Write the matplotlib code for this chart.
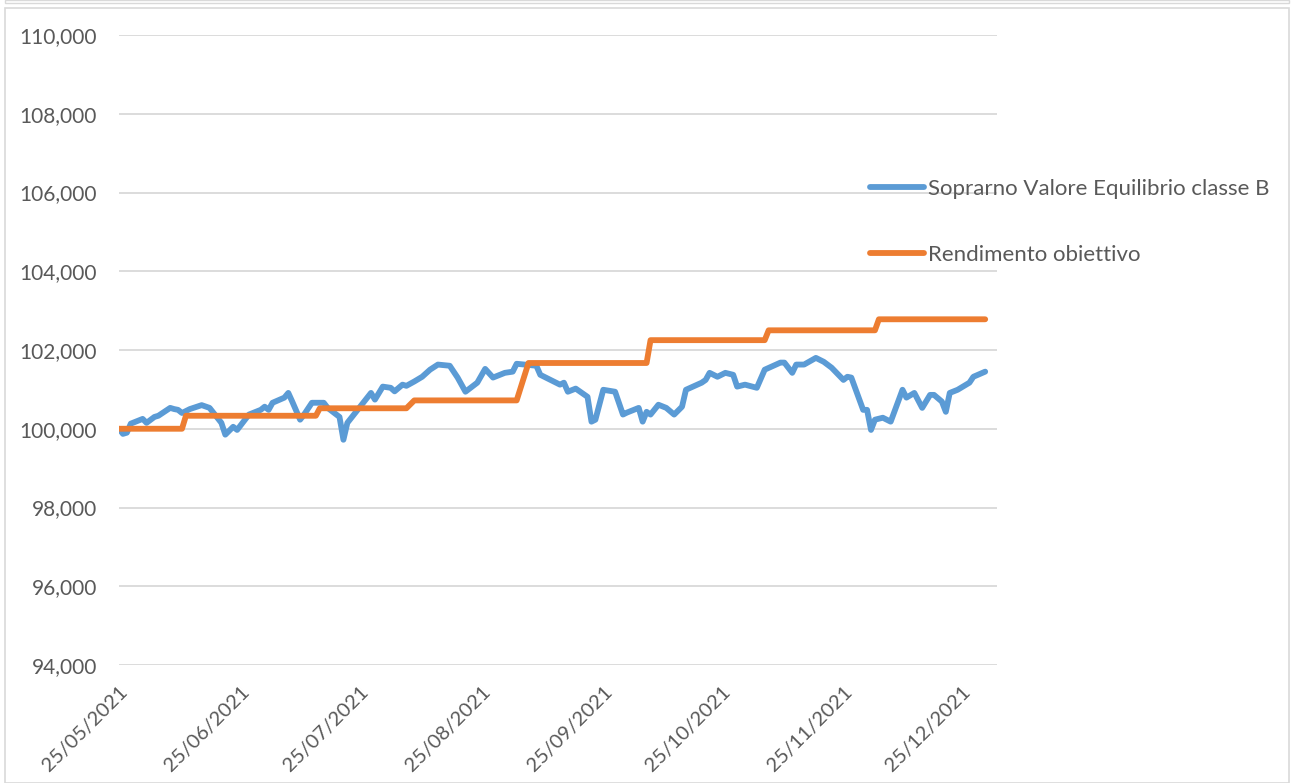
import matplotlib
matplotlib.use("Agg")
import matplotlib.pyplot as plt
from matplotlib.patches import Rectangle
from matplotlib.ticker import FuncFormatter
import pandas as pd

# ---- data ----
blue_dates = [
    "2021-05-25", "2021-05-26", "2021-05-27", "2021-05-28", "2021-05-31", "2021-06-01",
    "2021-06-03", "2021-06-04", "2021-06-07", "2021-06-08", "2021-06-09", "2021-06-10",
    "2021-06-12", "2021-06-15", "2021-06-17", "2021-06-20", "2021-06-21", "2021-06-23",
    "2021-06-24", "2021-06-26", "2021-06-27", "2021-06-30", "2021-07-01", "2021-07-02",
    "2021-07-03", "2021-07-06", "2021-07-07", "2021-07-08", "2021-07-10", "2021-07-11",
    "2021-07-13", "2021-07-16", "2021-07-17", "2021-07-20", "2021-07-21", "2021-07-22",
    "2021-07-25", "2021-07-28", "2021-07-29", "2021-07-31", "2021-08-02", "2021-08-03",
    "2021-08-05", "2021-08-06", "2021-08-08", "2021-08-10", "2021-08-12", "2021-08-14",
    "2021-08-17", "2021-08-19", "2021-08-21", "2021-08-24", "2021-08-26", "2021-08-28",
    "2021-08-31", "2021-09-02", "2021-09-03", "2021-09-05", "2021-09-08", "2021-09-09",
    "2021-09-14", "2021-09-15", "2021-09-16", "2021-09-18", "2021-09-21", "2021-09-22",
    "2021-09-23", "2021-09-25", "2021-09-28", "2021-09-30", "2021-10-01", "2021-10-04",
    "2021-10-05", "2021-10-06", "2021-10-07", "2021-10-09", "2021-10-11", "2021-10-13",
    "2021-10-15", "2021-10-16", "2021-10-20", "2021-10-21", "2021-10-22", "2021-10-24",
    "2021-10-26", "2021-10-28", "2021-10-29", "2021-10-31", "2021-11-03", "2021-11-05",
    "2021-11-09", "2021-11-10", "2021-11-12", "2021-11-13", "2021-11-15", "2021-11-18",
    "2021-11-20", "2021-11-22", "2021-11-25", "2021-11-26", "2021-11-27", "2021-11-30",
    "2021-12-01", "2021-12-02", "2021-12-03", "2021-12-05", "2021-12-07", "2021-12-10",
    "2021-12-11", "2021-12-13", "2021-12-15", "2021-12-17", "2021-12-18", "2021-12-20",
    "2021-12-21", "2021-12-22", "2021-12-24", "2021-12-27", "2021-12-28", "2021-12-31",
]
blue_values = [
    100.00, 99.87, 99.90, 100.13, 100.25, 100.15,
    100.30, 100.33, 100.53, 100.50, 100.48, 100.40,
    100.50, 100.60, 100.53, 100.15, 99.85, 100.05,
    99.97, 100.23, 100.36, 100.48, 100.56, 100.48,
    100.66, 100.79, 100.91, 100.69, 100.23, 100.36,
    100.66, 100.66, 100.53, 100.30, 99.72, 100.15,
    100.53, 100.91, 100.74, 101.07, 101.04, 100.95,
    101.12, 101.09, 101.20, 101.32, 101.50, 101.63,
    101.60, 101.30, 100.94, 101.17, 101.52, 101.30,
    101.42, 101.45, 101.65, 101.63, 101.60, 101.37,
    101.12, 101.17, 100.94, 101.02, 100.81, 100.18,
    100.23, 100.99, 100.94, 100.36, 100.41, 100.53,
    100.18, 100.43, 100.36, 100.61, 100.53, 100.36,
    100.56, 100.99, 101.17, 101.24, 101.42, 101.32,
    101.42, 101.37, 101.07, 101.12, 101.04, 101.50,
    101.68, 101.68, 101.42, 101.63, 101.63, 101.80,
    101.70, 101.55, 101.24, 101.32, 101.30, 100.48,
    100.48, 99.97, 100.23, 100.28, 100.18, 100.99,
    100.79, 100.91, 100.53, 100.86, 100.86, 100.69,
    100.43, 100.91, 100.99, 101.17, 101.32, 101.45,
]

orange_dates = [
    "2021-05-25", "2021-06-10", "2021-06-11", "2021-07-14", "2021-07-15",
    "2021-08-06", "2021-08-08", "2021-09-03", "2021-09-06", "2021-10-06",
    "2021-10-07", "2021-11-05", "2021-11-06", "2021-12-03", "2021-12-04",
    "2021-12-31",
]
orange_values = [
    100.00, 100.00, 100.33, 100.33, 100.52,
    100.52, 100.72, 100.72, 101.67, 101.67,
    102.25, 102.25, 102.50, 102.50, 102.78,
    102.78,
]

tick_labels = ["25/05/2021", "25/06/2021", "25/07/2021", "25/08/2021",
               "25/09/2021", "25/10/2021", "25/11/2021", "25/12/2021"]
y_ticks = [94, 96, 98, 100, 102, 104, 106, 108, 110]

series_names = ["Soprarno Valore Equilibrio classe B", "Rendimento obiettivo"]

# ---- figure ----
plt.rcParams['font.family'] = ['Lato', 'DejaVu Sans']
W, H = 1292, 783
fig = plt.figure(figsize=(W / 100, H / 100), dpi=100)
fig.patch.set_facecolor("white")

# chart outer frame
fig.add_artist(Rectangle((5 / W, 0), (W - 8) / W, (H - 8) / H, transform=fig.transFigure,
                         fill=False, edgecolor="#d9d9d9", linewidth=1.2))
fig.add_artist(Rectangle((5 / W, (H - 3) / H), (W - 8) / W, 3 / H, transform=fig.transFigure,
                         fill=False, edgecolor="#d9d9d9", linewidth=1.0))

ax = fig.add_axes([119 / W, 1 - 665 / H, (997 - 119) / W, (665 - 35) / H])

bd = pd.to_datetime(blue_dates)
od = pd.to_datetime(orange_dates)
blue_c = "#5b9bd5"
orange_c = "#ed7d31"
l1, = ax.plot(bd, blue_values, color=blue_c, lw=4.2, solid_capstyle="round",
              solid_joinstyle="round", label=series_names[0], zorder=3)
l2, = ax.plot(od, orange_values, color=orange_c, lw=4.2, solid_capstyle="round",
              solid_joinstyle="round", label=series_names[1], zorder=3)

ax.set_ylim(94, 110)
ax.set_yticks(y_ticks)
ax.yaxis.set_major_formatter(FuncFormatter(lambda v, p: f"{v:.3f}".replace(".", ",")))
ax.set_xlim(pd.Timestamp("2021-05-25"), pd.Timestamp("2022-01-03"))
tick_pos = pd.to_datetime(tick_labels, format="%d/%m/%Y")
ax.set_xticks(tick_pos)
ax.set_xticklabels(tick_labels, rotation=45, ha="right", va="top", rotation_mode="anchor")

ax.grid(axis="y", color="#d9d9d9", lw=1.3, zorder=0)
ax.set_axisbelow(True)
for s in ax.spines.values():
    s.set_visible(False)
ax.tick_params(axis="y", length=0, colors="#595959", labelsize=15, pad=16)
ax.tick_params(axis="x", length=0, colors="#595959", labelsize=14.5, pad=13)

leg = fig.legend(handles=[l1, l2], loc="upper left", bbox_to_anchor=(870 / W, 1 - 179 / H),
                 frameon=False, fontsize=16, handlelength=2.45, handletextpad=0.14,
                 labelspacing=2.05, borderaxespad=0, borderpad=0)
for t in leg.get_texts():
    t.set_color("#595959")

fig.savefig("out.png", dpi=100, facecolor="white")
